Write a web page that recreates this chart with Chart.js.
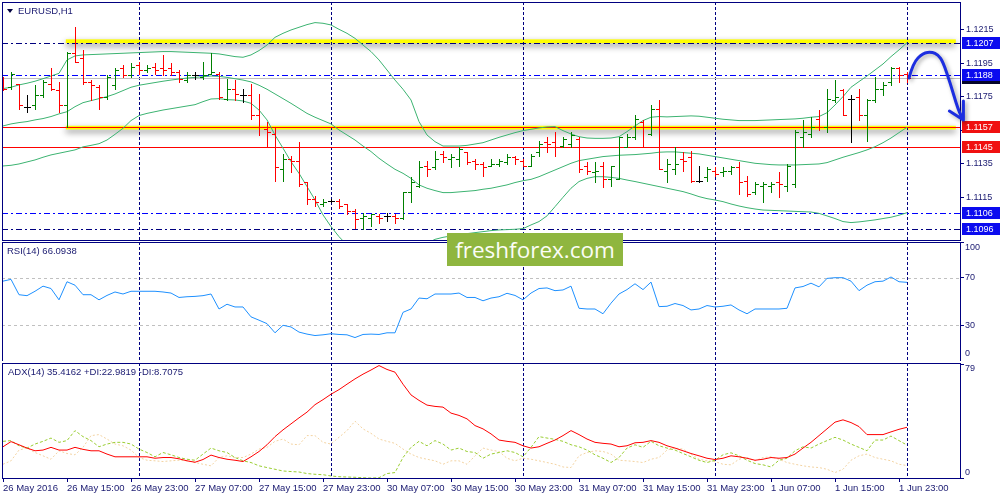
<!DOCTYPE html>
<html>
<head>
<meta charset="utf-8">
<title>EURUSD,H1</title>
<script src="https://cdn.jsdelivr.net/npm/chart.js@4.4.1/dist/chart.umd.min.js"></script>
<style>
  html, body { margin: 0; padding: 0; background: #fff; }
  #wrap { position: relative; width: 1000px; height: 500px; overflow: hidden; }
  canvas { position: absolute; left: 0; }
  #price-canvas { top: 0; }
  #rsi-canvas { top: 241px; }
  #adx-canvas { top: 361px; }
  .cap { position: absolute; font: 9.5px "Liberation Sans", Arial, sans-serif; line-height: 12px; color: #191970; white-space: nowrap; }
  #tri { position: absolute; left: 7px; top: 9px; width: 0; height: 0;
         border-left: 3px solid transparent; border-right: 3px solid transparent; border-top: 4px solid #000040; }
  #wm { position: absolute; left: 447px; top: 233px; width: 176px; height: 33px; background: #8fb63f;
        color: #fbfdf6; font: 22.5px "Open Sans", sans-serif; line-height: 33px; text-align: center; }
</style>
</head>
<body>
<div id="wrap">
  <canvas id="price-canvas" width="1000" height="241"></canvas>
  <canvas id="rsi-canvas" width="1000" height="120"></canvas>
  <canvas id="adx-canvas" width="1000" height="139"></canvas>
  <div id="tri"></div>
  <div class="cap" style="left:18px; top:5px">EURUSD,H1</div>
  <div class="cap" style="left:7px; top:245px">RSI(14) 66.0938</div>
  <div class="cap" style="left:8px; top:366px">ADX(14) 35.4162 +DI:22.9819 -DI:8.7075</div>
  <div id="wm">freshforex.com</div>
</div>
<script>
// H1 bars, 26 May 07:00 .. 2 Jun 00:00
const opens = [
  1.1185,1.1181,1.1183,1.1169,1.1170,1.1176,1.1183,1.1179,1.1170,1.1201,
  1.1198,1.1184,1.1181,1.1175,1.1182,1.1192,1.1188,1.1194,1.1191,1.1193,
  1.1192,1.1192,1.1190,1.1185,1.1188,1.1187,1.1189,1.1189,1.1174,1.1180,
  1.1176,1.1176,1.1164,1.1156,1.1153,1.1132,1.1138,1.1137,1.1124,1.1114,
  1.1111,1.1113,1.1113,1.1111,1.1107,1.1103,1.1103,1.1104,1.1104,1.1104,
  1.1103,1.1118,1.1122,1.1134,1.1133,1.1141,1.1138,1.1138,1.1142,1.1137,
  1.1135,1.1134,1.1135,1.1136,1.1139,1.1137,1.1134,1.1142,1.1148,1.1148,
  1.1146,1.1147,1.1150,1.1134,1.1130,1.1134,1.1126,1.1126,1.1145,1.1151,
  1.1160,1.1153,1.1168,1.1131,1.1132,1.1138,1.1139,1.1125,1.1127,1.1131,
  1.1130,1.1131,1.1133,1.1125,1.1118,1.1122,1.1122,1.1124,1.1122,1.1123,
  1.1151,1.1153,1.1162,1.1157,1.1173,1.1179,1.1174,1.1175,1.1164,1.1173,
  1.1180,1.1184,1.1192,1.1189
];
const highs = [
  1.1187,1.1190,1.1183,1.1176,1.1182,1.1185,1.1192,1.1184,1.1202,1.1217,
  1.1203,1.1185,1.1182,1.1188,1.1192,1.1194,1.1195,1.1196,1.1194,1.1195,
  1.1200,1.1195,1.1191,1.1190,1.1190,1.1196,1.1201,1.1190,1.1186,1.1185,
  1.1180,1.1183,1.1177,1.1160,1.1157,1.1141,1.1140,1.1148,1.1124,1.1116,
  1.1114,1.1114,1.1114,1.1111,1.1108,1.1106,1.1105,1.1105,1.1106,1.1105,
  1.1118,1.1127,1.1137,1.1137,1.1143,1.1143,1.1141,1.1145,1.1142,1.1138,
  1.1136,1.1138,1.1138,1.1141,1.1140,1.1138,1.1141,1.1149,1.1151,1.1154,
  1.1151,1.1154,1.1151,1.1136,1.1136,1.1136,1.1134,1.1151,1.1153,1.1164,
  1.1161,1.1170,1.1173,1.1138,1.1145,1.1142,1.1143,1.1134,1.1133,1.1133,
  1.1133,1.1134,1.1136,1.1128,1.1124,1.1124,1.1124,1.1130,1.1135,1.1155,
  1.1161,1.1163,1.1167,1.1180,1.1185,1.1180,1.1176,1.1180,1.1174,1.1187,
  1.1184,1.1193,1.1193,1.1190
];
const lows = [
  1.1179,1.1180,1.1168,1.1166,1.1168,1.1175,1.1179,1.1166,1.1157,1.1196,
  1.1183,1.1173,1.1168,1.1174,1.1180,1.1187,1.1187,1.1189,1.1190,1.1189,
  1.1188,1.1188,1.1184,1.1184,1.1186,1.1186,1.1189,1.1174,1.1173,1.1173,
  1.1172,1.1162,1.1152,1.1145,1.1125,1.1125,1.1130,1.1122,1.1111,1.1110,
  1.1110,1.1112,1.1109,1.1105,1.1097,1.1096,1.1098,1.1100,1.1101,1.1100,
  1.1102,1.1112,1.1121,1.1128,1.1132,1.1136,1.1133,1.1134,1.1135,1.1132,
  1.1128,1.1134,1.1134,1.1135,1.1135,1.1134,1.1134,1.1140,1.1142,1.1140,
  1.1145,1.1145,1.1130,1.1129,1.1124,1.1121,1.1122,1.1126,1.1145,1.1150,
  1.1145,1.1152,1.1132,1.1124,1.1129,1.1131,1.1124,1.1124,1.1125,1.1128,
  1.1128,1.1129,1.1117,1.1116,1.1117,1.1112,1.1118,1.1115,1.1119,1.1121,
  1.1145,1.1151,1.1155,1.1154,1.1172,1.1164,1.1148,1.1161,1.1149,1.1172,
  1.1176,1.1182,1.1184,1.1184
];
const closes = [
  1.1180,1.1189,1.1170,1.1169,1.1176,1.1184,1.1180,1.1170,1.1201,1.1196,
  1.1184,1.1182,1.1175,1.1187,1.1191,1.1188,1.1193,1.1191,1.1192,1.1191,
  1.1191,1.1190,1.1186,1.1188,1.1188,1.1188,1.1190,1.1175,1.1180,1.1177,
  1.1176,1.1164,1.1157,1.1154,1.1133,1.1138,1.1137,1.1123,1.1114,1.1112,
  1.1112,1.1113,1.1110,1.1107,1.1102,1.1104,1.1105,1.1103,1.1104,1.1103,
  1.1118,1.1124,1.1133,1.1132,1.1138,1.1139,1.1139,1.1144,1.1136,1.1135,
  1.1133,1.1135,1.1137,1.1139,1.1138,1.1134,1.1140,1.1147,1.1147,1.1145,
  1.1150,1.1152,1.1132,1.1131,1.1131,1.1126,1.1134,1.1151,1.1151,1.1162,
  1.1157,1.1168,1.1132,1.1135,1.1135,1.1137,1.1125,1.1125,1.1132,1.1129,
  1.1131,1.1133,1.1124,1.1117,1.1123,1.1123,1.1123,1.1123,1.1134,1.1154,
  1.1154,1.1157,1.1157,1.1174,1.1175,1.1164,1.1174,1.1164,1.1173,1.1180,
  1.1182,1.1192,1.1188,1.11863
];

// Bollinger Bands (20)
const bbUpper = [
  1.11800,1.11808,1.11822,1.11832,1.11844,1.11859,1.11875,1.11891,1.11971,1.11995,
  1.12001,1.12003,1.12005,1.12007,1.12009,1.12011,1.12013,1.12015,1.12017,1.12019,
  1.12021,1.12021,1.12019,1.12017,1.12015,1.12013,1.12011,1.12007,1.11999,1.11991,
  1.11987,1.12001,1.12027,1.12060,1.12106,1.12130,1.12150,1.12166,1.12182,1.12194,
  1.12190,1.12180,1.12154,1.12130,1.12100,1.12060,1.12021,1.11971,1.11911,1.11851,
  1.11796,1.11732,1.11603,1.11523,1.11483,1.11457,1.11457,1.11457,1.11461,1.11469,
  1.11477,1.11493,1.11509,1.11523,1.11537,1.11549,1.11557,1.11565,1.11571,1.11573,
  1.11549,1.11529,1.11513,1.11505,1.11503,1.11503,1.11505,1.11513,1.11543,1.11577,
  1.11609,1.11629,1.11633,1.11631,1.11633,1.11635,1.11637,1.11635,1.11629,1.11623,
  1.11617,1.11613,1.11609,1.11609,1.11609,1.11611,1.11613,1.11615,1.11617,1.11619,
  1.11623,1.11629,1.11633,1.11656,1.11702,1.11752,1.11808,1.11842,1.11875,1.11911,
  1.11947,1.11991,1.12031,1.12074
];
const bbMiddle = [
  1.11577,1.11589,1.11597,1.11603,1.11613,1.11621,1.11633,1.11649,1.11662,1.11692,
  1.11716,1.11728,1.11740,1.11752,1.11768,1.11788,1.11808,1.11820,1.11828,1.11836,
  1.11844,1.11851,1.11857,1.11863,1.11867,1.11871,1.11875,1.11873,1.11867,1.11859,
  1.11851,1.11840,1.11820,1.11796,1.11768,1.11740,1.11712,1.11682,1.11652,1.11629,
  1.11609,1.11589,1.11553,1.11523,1.11493,1.11457,1.11424,1.11384,1.11350,1.11318,
  1.11294,1.11264,1.11225,1.11205,1.11191,1.11179,1.11179,1.11183,1.11187,1.11191,
  1.11199,1.11205,1.11215,1.11225,1.11239,1.11250,1.11258,1.11274,1.11294,1.11314,
  1.11334,1.11354,1.11370,1.11378,1.11386,1.11394,1.11398,1.11402,1.11404,1.11406,
  1.11410,1.11414,1.11420,1.11422,1.11422,1.11418,1.11414,1.11410,1.11402,1.11394,
  1.11386,1.11378,1.11370,1.11362,1.11354,1.11350,1.11346,1.11344,1.11344,1.11344,
  1.11346,1.11348,1.11350,1.11358,1.11374,1.11390,1.11404,1.11418,1.11434,1.11453,
  1.11477,1.11505,1.11537,1.11569
];
const bbLower = [
  1.11338,1.11342,1.11350,1.11362,1.11374,1.11390,1.11404,1.11414,1.11424,1.11434,
  1.11452,1.11461,1.11471,1.11493,1.11527,1.11563,1.11609,1.11639,1.11652,1.11662,
  1.11672,1.11680,1.11688,1.11696,1.11704,1.11722,1.11738,1.11740,1.11734,1.11732,
  1.11726,1.11712,1.11672,1.11613,1.11523,1.11444,1.11364,1.11294,1.11215,1.11135,
  1.11046,1.10976,1.10916,1.10866,1.10817,1.10797,1.10787,1.10787,1.10793,1.10801,
  1.10817,1.10833,1.10856,1.10876,1.10900,1.10912,1.10920,1.10928,1.10934,1.10940,
  1.10946,1.10952,1.10956,1.10958,1.10960,1.10964,1.10986,1.11006,1.11040,1.11095,
  1.11151,1.11205,1.11245,1.11264,1.11274,1.11274,1.11270,1.11264,1.11254,1.11245,
  1.11235,1.11225,1.11215,1.11205,1.11195,1.11185,1.11171,1.11155,1.11143,1.11135,
  1.11125,1.11111,1.11099,1.11089,1.11081,1.11075,1.11073,1.11071,1.11069,1.11067,
  1.11065,1.11063,1.11055,1.11040,1.11024,1.11006,1.11000,1.11004,1.11010,1.11016,
  1.11024,1.11032,1.11044,1.11059
];

const rsiValues = [
  67.1,68.6,55.7,54.9,58.6,62.9,60.9,51.4,66.6,63.7,
  55.7,55.7,51.4,55.1,58.0,56.3,58.6,58.6,58.6,58.6,
  58.0,57.1,53.4,54.0,54.3,54.9,56.3,43.7,47.7,45.4,
  45.4,37.1,34.3,31.4,23.7,30.0,28.6,24.3,22.6,21.4,
  22.0,22.9,22.3,22.0,19.7,22.3,22.6,22.3,23.7,23.7,
  40.9,43.7,52.9,52.3,56.3,56.3,56.3,57.1,53.4,53.4,
  50.6,52.9,54.0,56.9,55.1,51.4,57.1,60.9,61.4,59.1,
  59.7,62.9,44.3,43.7,43.7,39.7,48.6,56.3,60.0,64.9,
  60.0,66.3,45.7,46.0,48.3,46.6,42.9,43.7,46.6,45.4,
  46.0,47.1,42.9,39.7,43.7,43.7,43.7,43.7,44.3,61.4,
  62.6,65.4,62.3,69.4,70.0,70.0,67.1,59.1,63.7,66.6,
  67.1,70.6,66.6,66.1
];

const adxMain = [
  21.8,25.4,23.2,20.9,19.0,19.5,21.4,19.5,19.5,21.4,
  20.0,19.0,19.0,16.7,14.8,14.8,14.8,14.8,14.8,13.8,
  14.3,14.3,13.4,12.0,11.0,12.9,16.0,14.3,13.1,12.4,
  11.5,14.8,18.5,23.2,28.9,33.6,37.8,42.0,46.0,51.2,
  54.7,58.5,61.7,65.5,69.2,72.5,75.4,78.5,75.8,73.9,
  65.5,58.0,54.2,50.9,50.0,49.5,45.3,43.7,41.3,36.6,
  34.3,30.8,26.5,25.6,24.9,22.5,20.9,21.8,24.2,26.5,
  29.6,33.1,30.3,27.2,24.9,24.2,23.7,21.8,22.5,24.6,
  24.9,26.1,24.9,22.5,20.9,19.0,17.1,15.5,13.8,12.9,
  13.8,15.5,14.8,13.8,12.4,13.1,14.3,13.8,14.3,16.7,
  20.9,24.9,29.6,34.3,39.0,40.6,38.7,35.9,30.3,30.3,
  30.3,32.2,34.0,35.4
];
const plusDI = [
  25.6,26.1,22.5,20.9,23.7,25.6,27.9,24.9,26.1,33.1,
  28.9,26.1,21.8,23.7,24.9,24.9,23.7,20.2,17.8,14.8,
  17.8,16.2,14.3,13.1,12.4,16.7,20.9,19.0,17.8,14.3,
  12.0,10.8,8.5,7.3,6.1,4.9,4.5,4.2,3.1,2.6,
  2.3,1.4,0.9,0.7,0.5,0.2,0.0,0.2,3.1,3.8,
  14.3,21.4,25.6,22.5,26.1,23.7,19.5,20.9,18.5,17.8,
  13.8,16.7,17.8,19.0,17.8,14.8,21.4,28.9,27.9,27.0,
  25.6,23.2,21.8,19.5,16.2,13.8,10.8,14.3,20.9,23.2,
  21.4,25.6,22.5,20.9,19.5,17.1,14.8,12.4,10.8,12.4,
  16.2,17.6,15.5,12.4,10.1,9.2,7.7,12.4,13.8,19.0,
  21.8,20.9,23.7,26.1,28.4,26.5,23.7,21.4,19.0,26.5,
  26.5,29.3,26.1,23.0
];
const minusDI = [
  9.6,12.0,19.5,20.9,17.8,15.5,13.1,19.0,17.1,16.2,
  21.4,29.6,30.3,27.2,23.7,22.5,19.5,14.3,12.4,12.0,
  11.5,12.0,12.4,12.0,10.8,9.6,8.5,14.3,15.5,14.3,
  14.3,16.7,20.2,21.4,25.6,27.2,23.7,23.2,29.6,29.6,
  24.9,23.7,28.4,33.1,39.7,34.3,31.2,27.2,25.6,24.2,
  20.2,16.7,14.3,13.1,12.0,9.6,12.0,12.0,9.6,15.5,
  20.9,19.5,18.5,13.8,12.0,13.8,13.1,12.0,10.8,9.6,
  7.7,7.3,15.5,17.8,19.0,18.5,16.7,12.4,12.0,11.5,
  10.8,13.1,14.3,19.5,20.9,20.2,16.7,13.1,12.0,11.5,
  9.6,9.2,13.1,14.3,12.0,14.3,14.8,13.1,10.8,9.6,
  8.5,7.7,7.3,6.1,3.8,6.1,12.4,15.5,16.7,14.3,
  13.1,12.0,9.6,8.7
];

const timeTickIdx = [0, 8, 16, 24, 32, 40, 48, 56, 64, 72, 80, 88, 96, 104, 112];
const timeTickLabels = [
  "26 May 2016", "26 May 15:00", "26 May 23:00", "27 May 07:00", "27 May 15:00",
  "27 May 23:00", "30 May 07:00", "30 May 15:00", "30 May 23:00", "31 May 07:00",
  "31 May 15:00", "31 May 23:00", "1 Jun 07:00", "1 Jun 15:00", "1 Jun 23:00"
];
const daySeparatorIdx = [17, 41, 65, 89, 113];
const priceTicks = [1.1115, 1.1135, 1.1155, 1.1175, 1.1195, 1.1215];
const levelPrices = [1.11863, 1.1207, 1.1188, 1.1157, 1.1145, 1.1106, 1.1096];
const tagPrices = [1.1207, 1.11863, 1.1188, 1.1157, 1.1145, 1.1106, 1.1096];
const zoneBands = [[1.12094, 1.12071], [1.11578, 1.11556]];
const zoneSpan = [7.85, 119.1];
const rsiLevels = [30, 70];
const rsiAxisValues = [0, 30, 70, 100];
const adxAxisValues = [0, 79];
const arrowPath = [
  [113.25, 1.11863], [113.75, 1.11953], [115.0, 1.12013], [116.1, 1.12019], [116.9, 1.12001],
  [117.5, 1.11959], [118.4, 1.11834], [119.4, 1.11672], [120.05, 1.11613]
];
const arrowWings = [[118.3, 1.11666], [120.05, 1.11726]];

// ---- styles ----
const NAVY = "#000080";
const TEXT = "#191970";
const X_MIN = -0.125, X_MAX = 119.625;
const PRICE_MIN = 1.10896, PRICE_MAX = 1.12317;
const levelStyles = [
  { color: "#c0c0c0", dash: [] },
  { color: "#000080", dash: [6, 3, 2, 3] },
  { color: "#0000ff", dash: [6, 3, 2, 3] },
  { color: "#ff0000", dash: [] },
  { color: "#ff0000", dash: [] },
  { color: "#0000ff", dash: [6, 3, 2, 3] },
  { color: "#000080", dash: [6, 3, 2, 3] },
];
const tagColors = ["#0b0bef", "#05052a", "#0b0bef", "#f01010", "#f01010", "#0b0bef", "#0b0bef"];
const rsiNudge = { 0: -7, 100: 6 };
const adxNudge = { 0: -5, 79: 4 };

Chart.defaults.font.family = '"Liberation Sans", Arial, sans-serif';
Chart.defaults.font.size = 9;
Chart.defaults.color = TEXT;

function series(values) {
  return values.map((v, i) => ({ x: i, y: v }));
}

function noPad(s) {
  s.paddingTop = 0;
  s.paddingBottom = 0;
  s.paddingLeft = 0;
  s.paddingRight = 0;
}

function baseOptions(padding) {
  return {
    responsive: false,
    animation: false,
    devicePixelRatio: 1,
    events: [],
    layout: { padding, autoPadding: false },
    plugins: { legend: { display: false }, tooltip: { enabled: false } },
    elements: { point: { radius: 0 }, line: { borderWidth: 1, tension: 0 } },
  };
}

function rightAxis(min, max, tickValues, showLabels, fmt) {
  return {
    position: "right",
    min, max,
    afterBuildTicks: (s) => { s.ticks = tickValues.map((v) => ({ value: v })); },
    afterFit: (s) => { s.width = 40; noPad(s); },
    ticks: { display: showLabels, autoSkip: false, padding: 2, color: TEXT, callback: fmt },
    grid: { drawOnChartArea: false, tickLength: 4, color: NAVY },
    border: { color: NAVY },
  };
}

function hiddenX() {
  return { type: "linear", display: false, min: X_MIN, max: X_MAX };
}

function clipArea(ctx, a) {
  ctx.beginPath();
  ctx.rect(a.left, a.top, a.right - a.left, a.bottom - a.top);
  ctx.clip();
}

function drawSeparators(chart) {
  const { ctx, chartArea: a, scales: { x } } = chart;
  ctx.save();
  ctx.strokeStyle = NAVY;
  ctx.lineWidth = 1;
  ctx.setLineDash([3, 2]);
  for (const idx of daySeparatorIdx) {
    const px = Math.round(x.getPixelForValue(idx)) + 0.5;
    ctx.beginPath();
    ctx.moveTo(px, a.top);
    ctx.lineTo(px, a.bottom);
    ctx.stroke();
  }
  ctx.restore();
}

function drawFrame(chart) {
  const { ctx, chartArea: a } = chart;
  ctx.save();
  ctx.strokeStyle = NAVY;
  ctx.lineWidth = 1;
  ctx.strokeRect(Math.round(a.left) + 0.5, Math.round(a.top) + 0.5,
    Math.round(a.right - a.left), Math.round(a.bottom - a.top));
  ctx.restore();
}

function drawAxisNotes(chart, values, nudge) {
  const { ctx, chartArea: a, scales: { y } } = chart;
  ctx.save();
  ctx.fillStyle = TEXT;
  ctx.font = '9px "Liberation Sans", Arial, sans-serif';
  ctx.textAlign = "left";
  ctx.textBaseline = "middle";
  for (const v of values) {
    ctx.fillText(String(v), a.right + 5, y.getPixelForValue(v) + (nudge[v] || 0));
  }
  ctx.restore();
}

const pricePanel = {
  id: "pricePanel",
  beforeDatasetsDraw(chart) {
    const { ctx, chartArea: a, scales: { x, y } } = chart;
    ctx.save();
    clipArea(ctx, a);
    const x1 = x.getPixelForValue(zoneSpan[0]);
    const x2 = x.getPixelForValue(zoneSpan[1]);
    for (const [p1, p2] of zoneBands) {
      const y1 = y.getPixelForValue(p1), y2 = y.getPixelForValue(p2);
      ctx.save();
      ctx.shadowColor = "rgba(0,0,0,0.45)";
      ctx.shadowBlur = 6;
      ctx.shadowOffsetY = 3;
      ctx.fillStyle = "#ffff00";
      ctx.fillRect(x1, y1, x2 - x1, y2 - y1);
      ctx.restore();
    }
    ctx.restore();
    drawSeparators(chart);
    ctx.save();
    clipArea(ctx, a);
    ctx.lineWidth = 1;
    levelPrices.forEach((p, i) => {
      const py = Math.round(y.getPixelForValue(p)) + 0.5;
      ctx.strokeStyle = levelStyles[i].color;
      ctx.setLineDash(levelStyles[i].dash);
      ctx.beginPath();
      ctx.moveTo(a.left, py);
      ctx.lineTo(a.right, py);
      ctx.stroke();
    });
    ctx.restore();
  },
  afterDatasetsDraw(chart) {
    const { ctx, chartArea: a, scales: { x, y } } = chart;
    ctx.save();
    clipArea(ctx, a);
    ctx.lineWidth = 1;
    for (let i = 0; i < opens.length; i++) {
      const color = closes[i] > opens[i] ? "#008000" : closes[i] < opens[i] ? "#ff0000" : "#000000";
      const px = Math.round(x.getPixelForValue(i)) + 0.5;
      const yh = Math.round(y.getPixelForValue(highs[i]));
      const yl = Math.round(y.getPixelForValue(lows[i]));
      const yo = Math.round(y.getPixelForValue(opens[i])) + 0.5;
      const yc = Math.round(y.getPixelForValue(closes[i])) + 0.5;
      ctx.strokeStyle = color;
      ctx.beginPath();
      ctx.moveTo(px, yh);
      ctx.lineTo(px, yl + 1);
      ctx.moveTo(px - 3.5, yo);
      ctx.lineTo(px, yo);
      ctx.moveTo(px, yc);
      ctx.lineTo(px + 3.5, yc);
      ctx.stroke();
    }
    ctx.restore();
  },
  afterDraw(chart) {
    const { ctx, chartArea: a, scales: { x, y } } = chart;
    drawFrame(chart);

    // price tags on the right scale
    ctx.save();
    ctx.font = '9px "Liberation Sans", Arial, sans-serif';
    ctx.textAlign = "left";
    ctx.textBaseline = "middle";
    tagPrices.forEach((p, i) => {
      const py = Math.round(y.getPixelForValue(p));
      ctx.fillStyle = tagColors[i];
      ctx.fillRect(a.right + 2, py - 6, 38, 12);
      ctx.fillStyle = "#ffffff";
      ctx.fillText(p.toFixed(4), a.right + 6, py + 0.5);
    });
    ctx.restore();

    // hand drawn forecast arrow
    const pts = arrowPath.map(([b, p]) => [x.getPixelForValue(b), y.getPixelForValue(p)]);
    const tip = pts[pts.length - 1];
    ctx.save();
    ctx.strokeStyle = "#1c2ee0";
    ctx.lineWidth = 3;
    ctx.lineCap = "round";
    ctx.lineJoin = "round";
    ctx.shadowColor = "rgba(0,0,0,0.35)";
    ctx.shadowBlur = 4;
    ctx.shadowOffsetX = 2;
    ctx.shadowOffsetY = 2;
    ctx.beginPath();
    ctx.moveTo(pts[0][0], pts[0][1]);
    for (let i = 1; i < pts.length - 1; i++) {
      const mx = (pts[i][0] + pts[i + 1][0]) / 2;
      const my = (pts[i][1] + pts[i + 1][1]) / 2;
      ctx.quadraticCurveTo(pts[i][0], pts[i][1], mx, my);
    }
    ctx.lineTo(tip[0], tip[1]);
    for (const [b, p] of arrowWings) {
      ctx.moveTo(tip[0], tip[1]);
      ctx.lineTo(x.getPixelForValue(b), y.getPixelForValue(p));
    }
    ctx.stroke();
    ctx.restore();
  },
};

const rsiPanel = {
  id: "rsiPanel",
  beforeDatasetsDraw(chart) {
    const { ctx, chartArea: a, scales: { y } } = chart;
    ctx.save();
    ctx.strokeStyle = "#c0c0c0";
    ctx.lineWidth = 1;
    ctx.setLineDash([3, 3]);
    for (const lv of rsiLevels) {
      const py = Math.round(y.getPixelForValue(lv)) + 0.5;
      ctx.beginPath();
      ctx.moveTo(a.left, py);
      ctx.lineTo(a.right, py);
      ctx.stroke();
    }
    ctx.restore();
    drawSeparators(chart);
  },
  afterDraw(chart) {
    drawFrame(chart);
    drawAxisNotes(chart, rsiAxisValues, rsiNudge);
  },
};

const adxPanel = {
  id: "adxPanel",
  beforeDatasetsDraw(chart) { drawSeparators(chart); },
  afterDraw(chart) {
    drawFrame(chart);
    drawAxisNotes(chart, adxAxisValues, adxNudge);
  },
};

const priceChart = new Chart(document.getElementById("price-canvas"), {
  type: "line",
  data: {
    datasets: [
      { data: series(bbUpper), borderColor: "#3cb371" },
      { data: series(bbMiddle), borderColor: "#3cb371" },
      { data: series(bbLower), borderColor: "#3cb371" },
    ],
  },
  options: {
    ...baseOptions({ left: 2, right: 0, top: 2, bottom: 1 }),
    scales: {
      x: hiddenX(),
      y: rightAxis(PRICE_MIN, PRICE_MAX, priceTicks, true, (v) => Number(v).toFixed(4)),
    },
  },
  plugins: [pricePanel],
});

const rsiChart = new Chart(document.getElementById("rsi-canvas"), {
  type: "line",
  data: { datasets: [{ data: series(rsiValues), borderColor: "#1e90ff" }] },
  options: {
    ...baseOptions({ left: 2, right: 0, top: 1, bottom: 0 }),
    scales: { x: hiddenX(), y: rightAxis(0, 100, rsiAxisValues, false) },
  },
  plugins: [rsiPanel],
});

const adxChart = new Chart(document.getElementById("adx-canvas"), {
  type: "line",
  data: {
    datasets: [
      { data: series(adxMain), borderColor: "#ff0000" },
      { data: series(plusDI), borderColor: "#9acd32", borderDash: [3, 2] },
      { data: series(minusDI), borderColor: "#f3d3a2", borderDash: [2, 2] },
    ],
  },
  options: {
    ...baseOptions({ left: 2, right: 0, top: 2, bottom: 0 }),
    scales: {
      x: {
        type: "linear",
        min: X_MIN,
        max: X_MAX,
        afterBuildTicks: (s) => { s.ticks = timeTickIdx.map((v) => ({ value: v })); },
        afterFit: (s) => { s.height = 22; noPad(s); },
        ticks: {
          autoSkip: false,
          maxRotation: 0,
          align: "start",
          padding: 1,
          color: TEXT,
          font: { size: 9.5 },
          callback: (v, i) => timeTickLabels[i],
        },
        grid: { drawOnChartArea: false, tickLength: 4, color: NAVY },
        border: { color: NAVY },
      },
      y: rightAxis(0, 80.3, adxAxisValues, false),
    },
  },
  plugins: [adxPanel],
});
</script>
</body>
</html>
